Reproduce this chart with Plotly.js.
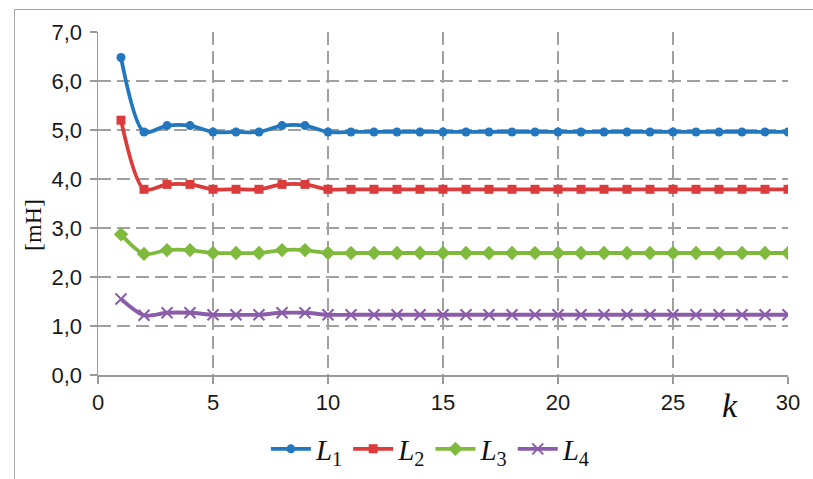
<!DOCTYPE html>
<html><head><meta charset="utf-8">
<script src="https://cdn.plot.ly/plotly-3.0.1.min.js"></script>
<style>
html,body{margin:0;padding:0;background:#fff;overflow:hidden;}
#frame{position:absolute;left:14px;top:9px;width:820px;height:500px;border:1.5px solid #a6a6a6;}
#chart{position:absolute;left:0;top:0;width:813px;height:479px;}
</style></head>
<body>
<div id="frame"></div>
<div id="chart"></div>
<script>
const k = [];
for (let i = 1; i <= 30; i++) k.push(i);
const L1 = [6.48,4.96,5.09,5.09,4.96,4.96,4.96,5.09,5.09,4.96,4.96,4.96,4.96,4.96,4.96,4.96,4.96,4.96,4.96,4.96,4.96,4.96,4.96,4.96,4.96,4.96,4.96,4.96,4.96,4.96];
const L2 = [5.2,3.79,3.89,3.89,3.79,3.79,3.79,3.89,3.89,3.79,3.79,3.79,3.79,3.79,3.79,3.79,3.79,3.79,3.79,3.79,3.79,3.79,3.79,3.79,3.79,3.79,3.79,3.79,3.79,3.79];
const L3 = [2.87,2.47,2.55,2.55,2.49,2.49,2.49,2.55,2.55,2.49,2.49,2.49,2.49,2.49,2.49,2.49,2.49,2.49,2.49,2.49,2.49,2.49,2.49,2.49,2.49,2.49,2.49,2.49,2.49,2.49];
const L4 = [1.55,1.22,1.27,1.27,1.23,1.23,1.23,1.27,1.27,1.23,1.23,1.23,1.23,1.23,1.23,1.23,1.23,1.23,1.23,1.23,1.23,1.23,1.23,1.23,1.23,1.23,1.23,1.23,1.23,1.23];
const names = ['<i>L</i><sub>1</sub>','<i>L</i><sub>2</sub>','<i>L</i><sub>3</sub>','<i>L</i><sub>4</sub>'];
const colors = ['#2377BF','#DC3B3B','#7FBA3C','#8A5CA9'];
const symbols = ['circle','square','diamond','x-thin'];
const sizes = [9,9,11,11];
const series = [L1,L2,L3,L4];
const traces = series.map((ys,i)=>({
  x:k, y:ys, name:names[i], type:'scatter', mode:'lines+markers',
  line:{color:colors[i], width:3.8, shape:'spline', smoothing:0.8},
  marker:{color:colors[i], symbol:symbols[i], size:sizes[i], line:{color:colors[i], width: i===3?2:0}}
}));
const grid = {showgrid:true, gridcolor:'#a0a0a0', gridwidth:1.5, griddash:'13px,6px'};
const tickFont = {family:'Liberation Sans', size:22, color:'#1a1a1a'};
const layout = {
  width:813, height:479,
  margin:{l:98, r:25, t:32, b:104, autoexpand:false},
  paper_bgcolor:'rgba(0,0,0,0)', plot_bgcolor:'#fff',
  separators:', ',
  showlegend:true,
  legend:{orientation:'h', xref:'container', yref:'container', x:0.53, xanchor:'center', y:1-449/479, yanchor:'middle',
    font:{family:'Liberation Serif', size:29, color:'#111'},
    itemwidth:40, tracegroupgap:0, bgcolor:'rgba(0,0,0,0)'},
  xaxis:Object.assign({range:[0,30], tickvals:[0,5,10,15,20,25,30], ticktext:['0','5','10','15','20','25','30'],
    showline:true, linecolor:'#9a9a9a', linewidth:1.5, ticks:'outside', ticklen:7, tickcolor:'#9a9a9a', tickwidth:1.5,
    zeroline:false, tickfont:tickFont, fixedrange:true}, grid),
  yaxis:Object.assign({range:[0,7], dtick:1, tickformat:'.1f',
    showline:true, linecolor:'#9a9a9a', linewidth:1.5, ticks:'outside', ticklen:7, tickcolor:'#9a9a9a', tickwidth:1.5,
    zeroline:false, tickfont:tickFont, fixedrange:true, ticklabelstandoff:3}, grid),
  annotations:[
    {text:'[mH]', xref:'paper', yref:'paper', x:(33-98)/690, y:(375-225)/343, xanchor:'center', yanchor:'middle', textangle:-90,
     showarrow:false, font:{family:'Liberation Serif', size:24, color:'#111'}},
    {text:'<i>k</i>', xref:'paper', yref:'paper', x:(730-98)/690, y:(375-405)/343, xanchor:'center', yanchor:'middle',
     showarrow:false, font:{family:'Liberation Serif', size:34, color:'#111'}}
  ]
};
Plotly.newPlot('chart', traces, layout, {displayModeBar:false, staticPlot:true});
</script>
</body></html>
